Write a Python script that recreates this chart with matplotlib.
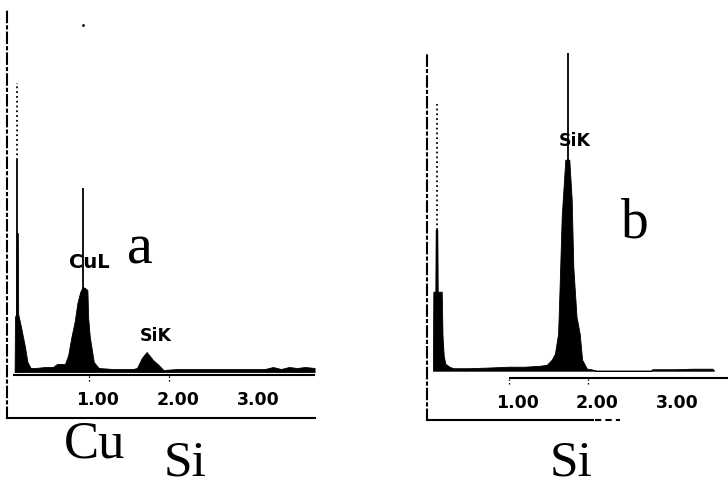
#!/usr/bin/python3

# plot.py
#
# Redraw the two EDS spectra (a: Cu + Si, b: Si only) as a single figure.
import matplotlib
matplotlib.use('Agg')
import matplotlib.pyplot as plt

# Energy axis (keV) and counts (arbitrary units) for spectrum a
A_ENERGY = [0.07, 0.075, 0.09, 0.095, 0.11, 0.115, 0.15, 0.20, 0.23, 0.27, 0.33, 0.45, 0.55,
            0.60, 0.68, 0.70, 0.74, 0.78, 0.82, 0.855, 0.89, 0.92, 0.95, 0.98, 0.99, 1.01,
            1.06, 1.12, 1.30, 1.55, 1.60, 1.66, 1.72, 1.80, 1.87, 1.93, 2.10, 2.60, 3.20,
            3.30, 3.40, 3.50, 3.60, 3.70, 3.82]
A_COUNTS = [0, 55, 58, 139, 139, 58, 45, 25, 10, 4, 4, 5, 5,
            8, 8, 8, 17, 35, 50, 69, 80, 85, 84, 82, 54, 35,
            10, 4, 3, 3, 4, 14, 20, 12, 7, 2, 3, 3, 3,
            5, 3, 5, 4, 5, 4]

# Energy axis (keV) and counts for spectrum b
B_ENERGY = [0.055, 0.06, 0.085, 0.09, 0.11, 0.115, 0.165, 0.175, 0.19, 0.21, 0.26, 0.31,
            0.50, 0.70, 1.00, 1.20, 1.40, 1.48, 1.54, 1.58, 1.62, 1.64, 1.665, 1.71, 1.76,
            1.79, 1.81, 1.85, 1.89, 1.92, 1.98, 2.03, 2.10, 2.78, 2.80, 3.10, 3.30, 3.55, 3.57]
B_COUNTS = [0, 79, 79, 141, 141, 79, 79, 35, 15, 7, 4, 2.5,
            2.5, 3, 4, 4, 5, 6, 11, 17, 37, 87, 154, 211, 211,
            171, 104, 54, 37, 11, 2, 1.5, 0, 0, 1.5, 1.5, 2, 2, 0]

# Peak markers: (energy, height) and the dotted part above the zero peak
A_MARKERS = [(0.10, 212), (0.93, 184)]
A_ZERO_DOTS = (0.10, 212, 289)
B_MARKERS = [(0.10, 141), (1.74, 318)]
B_ZERO_DOTS = (0.10, 141, 267)

# Axis ticks and labels
TICKS = [1.0, 2.0, 3.0]
TICK_LABELS = ['1.00', '2.00', '3.00']

W, H, DPI = 728, 487, 100
SMALL = dict(family='DejaVu Sans', weight='bold', color='black')
SERIF = dict(family=['Liberation Serif', 'DejaVu Serif'], color='black')


def box(left, top, right, bottom):
  # Convert a pixel box into figure fractions
  return [left / W, 1 - bottom / H, (right - left) / W, (bottom - top) / H]


def frame(ax, xlim, ylim, axis_y, axis_from):
  ax.set_xlim(xlim)
  ax.set_ylim(ylim)
  ax.set_xticks([])
  ax.set_yticks([])
  for side in ['top', 'right']:
    ax.spines[side].set_visible(False)
  ax.spines['left'].set_linestyle((0, (5, 2, 1, 2)))
  ax.spines['left'].set_linewidth(1.5)
  ax.spines['bottom'].set_linewidth(1.5)

  # The energy axis sits just under the spectrum baseline
  ax.hlines(axis_y, axis_from, xlim[1], color='black', lw=1.5)
  ax.vlines(TICKS[:2], axis_y - 6, axis_y, color='black', lw=1, linestyles=':')
  for tick, label in zip(TICKS, TICK_LABELS):
    ax.text(tick + 0.11, axis_y - 25, label, ha='center', va='center', fontsize=12.5, **SMALL)


def spectrum(ax, energy, counts, markers, dots):
  ax.fill_between(energy, counts, 0, color='black', lw=0.6, edgecolor='black')
  for e, h in markers:
    ax.vlines(e, 0, h, color='black', lw=1.3)
  ax.vlines(dots[0], dots[1], dots[2], color='black', lw=1.3, linestyles=':')


fig = plt.figure(figsize=(W / DPI, H / DPI), dpi=DPI)

# Panel a
ax_a = fig.add_axes(box(7, 10, 315, 418))
frame(ax_a, (-0.025, 3.825), (-46, 362), -3, 0.05)
spectrum(ax_a, A_ENERGY, A_COUNTS, A_MARKERS, A_ZERO_DOTS)
ax_a.plot([0.93], [347], 'k.', ms=2)
ax_a.text(1.01, 109, 'CuL', ha='center', va='center', fontsize=14, **SMALL)
ax_a.text(1.83, 36, 'SiK', ha='center', va='center', fontsize=12.5, **SMALL)
ax_a.text(1.64, 109, 'a', ha='center', va='baseline', fontsize=42, **SERIF)

# Panel b
ax_b = fig.add_axes(box(427, 53, 728, 420))
frame(ax_b, (-0.019, 3.744), (-49.3, 317.7), -7, 1.0)
ax_b.spines['bottom'].set_bounds(0, 2.06)
ax_b.plot([2.08, 2.39], [-49.3, -49.3], color='black', lw=1.5, ls=(0, (3, 2)), clip_on=False)
spectrum(ax_b, B_ENERGY, B_COUNTS, B_MARKERS, B_ZERO_DOTS)
ax_b.text(1.83, 230, 'SiK', ha='center', va='center', fontsize=12.5, **SMALL)
ax_b.text(2.58, 133, 'b', ha='center', va='baseline', fontsize=40, **SERIF)

# Element names under the panels
fig.text(95 / W, 1 - 457 / H, 'Cu', ha='center', va='baseline', fontsize=38, **SERIF)
fig.text(185 / W, 1 - 476 / H, 'Si', ha='center', va='baseline', fontsize=37, **SERIF)
fig.text(571 / W, 1 - 476 / H, 'Si', ha='center', va='baseline', fontsize=37, **SERIF)

plt.savefig('out.png', dpi=DPI)
plt.close()
